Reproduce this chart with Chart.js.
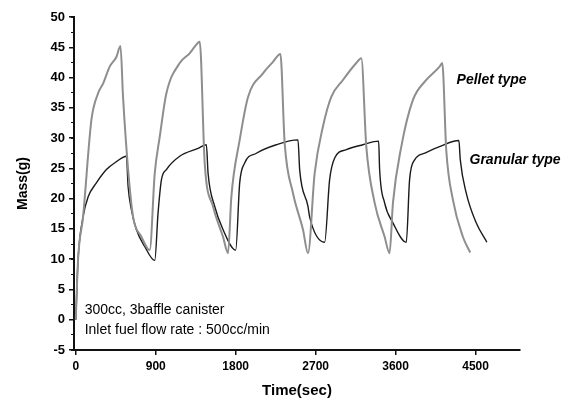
<!DOCTYPE html>
<html>
<head>
<meta charset="utf-8">
<script src="https://cdn.jsdelivr.net/npm/chart.js@4"></script>
<style>
  html, body { margin: 0; padding: 0; background: #fff; }
  canvas { display: block; }
</style>
</head>
<body>
<canvas id="massChart" width="581" height="401"></canvas>
<script>
// values (time in sec, mass in g)
const pelletTime = [0, 26, 82, 176, 251, 307, 382, 457, 503, 532, 589, 645, 739, 832,
  889, 945, 1020, 1170, 1282, 1373, 1395, 1451, 1545, 1657, 1714,
  1751, 1845, 1939, 2107, 2220, 2303, 2351, 2445, 2557, 2614,
  2689, 2782, 2876, 3007, 3157, 3214, 3270, 3364, 3476, 3532,
  3570, 3664, 3795, 3945, 4095, 4125, 4170, 4245, 4357, 4440];
const pelletMass = [0, 10, 17, 33, 37.4, 39, 41.8, 43.4, 45.2, 36.8, 24.8, 17, 13.7, 11.5,
  24.2, 30.2, 37.4, 42.4, 44, 45.7, 45.9, 25.9, 18.7, 13.7, 11.0,
  20.3, 29.7, 36.8, 40.7, 42.6, 43.9, 29.2, 20.9, 14.9, 11.0,
  24.2, 31.9, 36.8, 39.6, 42.4, 43.2, 28.6, 19.3, 13.7, 11.0,
  19.3, 28.6, 36.3, 39.6, 41.8, 42.4, 28, 19.8, 13.7, 11.1];

const granularTime = [0, 26, 82, 139, 232, 345, 457, 570, 589, 626, 682, 776, 889,
  926, 964, 1020, 1170, 1376, 1470, 1489, 1564, 1657, 1800,
  1845, 1901, 2033, 2257, 2501, 2520, 2614, 2632, 2801,
  2857, 2914, 3045, 3232, 3409, 3420, 3476, 3570, 3720,
  3757, 3814, 3926, 4095, 4312, 4328, 4395, 4507, 4627];
const granularMass = [0, 10, 17, 20.3, 22.6, 24.8, 26.1, 27, 22, 18.2, 14.9, 12.1, 9.8,
  17.6, 23.1, 24.8, 27, 28.3, 28.9, 24.2, 18.7, 14.9, 11.5,
  22.6, 25.9, 27.5, 28.9, 29.7, 24.8, 18.7, 17, 12.8,
  23.1, 26.7, 28.1, 28.9, 29.5, 24.8, 19.3, 16, 12.8,
  23.1, 26.4, 27.5, 28.6, 29.6, 26.4, 20.9, 16, 12.8];

const xTicks = [0, 900, 1800, 2700, 3600, 4500];
const yTicks = [-5, 0, 5, 10, 15, 20, 25, 30, 35, 40, 45, 50];

function toPoints(xs, ys) {
    return xs.map((x, i) => ({ x: x, y: ys[i] }));
}

const FAMILY = 'Arial, "Liberation Sans", sans-serif';

// text notes drawn at data positions
const chartNotes = {
    id: 'chartNotes',
    afterDatasetsDraw(chart) {
        const { ctx, scales: { x, y } } = chart;
        const notes = [
            { text: 'Pellet type', x: 4286, y: 39.6, font: 'italic bold 14px ' + FAMILY },
            { text: 'Granular type', x: 4432, y: 26.4, font: 'italic bold 14px ' + FAMILY },
            { text: '300cc, 3baffle canister', x: 100, y: 1.6, font: '14px ' + FAMILY },
            { text: 'Inlet fuel flow rate : 500cc/min', x: 100, y: -1.7, font: '14px ' + FAMILY }
        ];
        ctx.save();
        ctx.fillStyle = '#000';
        ctx.textBaseline = 'middle';
        ctx.textAlign = 'left';
        notes.forEach(n => {
            ctx.font = n.font;
            ctx.fillText(n.text, x.getPixelForValue(n.x), y.getPixelForValue(n.y));
        });
        ctx.restore();
    }
};

new Chart(document.getElementById('massChart'), {
    type: 'line',
    data: {
        datasets: [{
            label: 'Pellet type',
            data: toPoints(pelletTime, pelletMass),
            borderColor: '#8e8e8e',
            borderWidth: 2,
            pointRadius: 0,
            cubicInterpolationMode: 'monotone'
        }, {
            label: 'Granular type',
            data: toPoints(granularTime, granularMass),
            borderColor: '#1a1a1a',
            borderWidth: 1.4,
            pointRadius: 0,
            cubicInterpolationMode: 'monotone'
        }]
    },
    options: {
        responsive: false,
        animation: false,
        layout: { padding: { top: 17, right: 61, left: 0, bottom: 0 } },
        plugins: { legend: { display: false }, tooltip: { enabled: false } },
        scales: {
            x: {
                type: 'linear',
                min: -20,
                max: 5000,
                weight: 1,
                afterBuildTicks: s => { s.ticks = xTicks.map(v => ({ value: v })); },
                afterFit: s => { s.height = 51; },
                ticks: { color: '#000', font: { family: FAMILY, size: 12, weight: 'bold' }, padding: 4,
                    maxRotation: 0, autoSkip: false, callback: v => String(v) },
                grid: { drawOnChartArea: false, tickLength: 5, color: '#111', lineWidth: 1.5 },
                border: { color: '#111', width: 2 },
                title: { display: true, text: 'Time(sec)', color: '#000', padding: { top: 0, bottom: 1 },
                    font: { family: FAMILY, size: 15, weight: 'bold' } }
            },
            xMinor: {
                type: 'linear',
                position: 'bottom',
                min: -20,
                max: 5000,
                weight: 0,
                afterBuildTicks: s => { s.ticks = s.ticks.filter(t => t.value >= 0 && t.value % 450 === 0); },
                afterFit: s => { s.height = 0; },
                ticks: { display: false, stepSize: 450 },
                grid: { drawOnChartArea: false, tickLength: 3, color: '#111', lineWidth: 1 },
                border: { display: false }
            },
            y: {
                min: -5,
                max: 50,
                weight: 1,
                afterBuildTicks: s => { s.ticks = yTicks.map(v => ({ value: v })); },
                afterFit: s => { s.width = 74; },
                ticks: { color: '#000', font: { family: FAMILY, size: 13, weight: 'bold' }, padding: 4,
                    callback: v => String(v) },
                grid: { drawOnChartArea: false, tickLength: 5, color: '#111', lineWidth: 1.5 },
                border: { color: '#111', width: 2 },
                title: { display: true, text: 'Mass(g)', color: '#000', padding: { top: 15, bottom: 0 },
                    font: { family: FAMILY, size: 14, weight: 'bold' } }
            },
            yMinor: {
                position: 'left',
                min: -5,
                max: 50,
                weight: 0,
                afterFit: s => { s.width = 0; },
                ticks: { display: false, stepSize: 2.5 },
                grid: { drawOnChartArea: false, tickLength: 3, color: '#111', lineWidth: 1 },
                border: { display: false }
            }
        }
    },
    plugins: [chartNotes]
});
</script>
</body>
</html>
